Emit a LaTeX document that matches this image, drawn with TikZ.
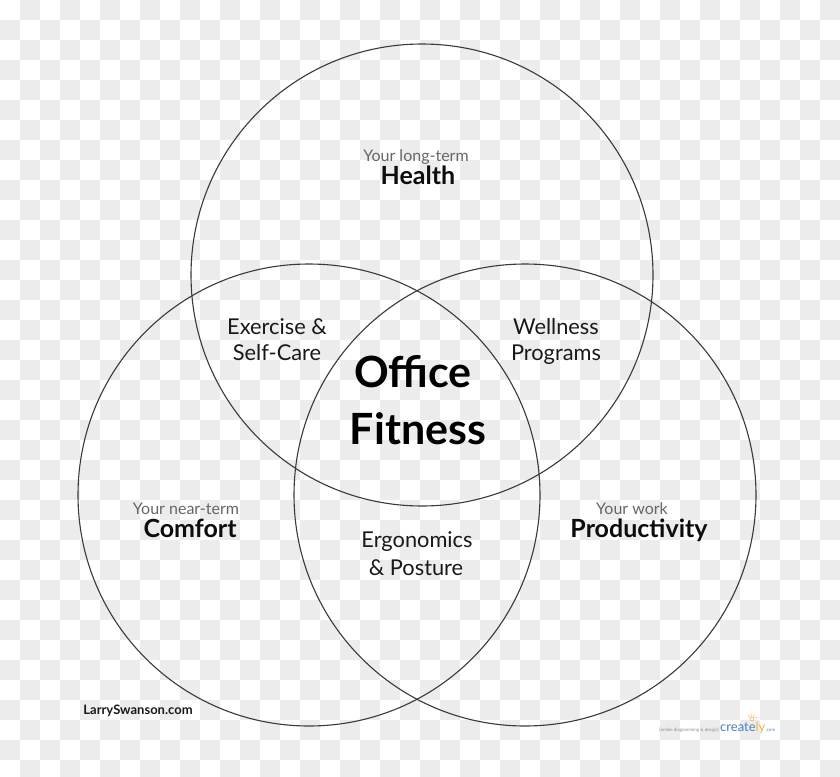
\documentclass[tikz,border=0pt]{standalone}
\usepackage{fontspec}
\setmainfont{Lato}
\definecolor{checker}{HTML}{ECECEC}
\definecolor{ringline}{HTML}{3A3A3A}
\definecolor{subtext}{HTML}{666666}
\definecolor{crblue}{HTML}{4A7FC1}
\definecolor{cryellow}{HTML}{EDB24A}

\begin{document}
\begin{tikzpicture}[x=1pt, y=-1pt,
		ring/.style={draw=ringline, line width=1.1pt},
		sub/.style={anchor=base, inner sep=0pt, text=subtext, font=\fontsize{16}{19}\selectfont},
		title/.style={anchor=base, inner sep=0pt, text=black!95, font=\bfseries\fontsize{25}{30}\selectfont},
		core/.style={anchor=base, inner sep=0pt, text=black, font=\bfseries\fontsize{43}{50}\selectfont},
		overlap/.style={anchor=base, inner sep=0pt, text=black!90, font=\fontsize{21.8}{26}\selectfont}]
			\useasboundingbox (0,0) rectangle (840,776);
			\clip (0,0) rectangle (840,776);
			
			% transparency checkerboard
			\fill[white] (0,0) rectangle (840,776);
			\foreach \i in {0,...,41}{
				\foreach \j in {0,...,38}{
					\pgfmathtruncatemacro{\odd}{mod(\i+\j,2)}
					\ifnum\odd=1 \fill[checker] (20*\i,20*\j) rectangle ++(20,20); \fi
				}
			}
			
			% the three circles
			\coordinate (chealth) at (422,275);
			\coordinate (ccomfort) at (309,495);
			\coordinate (cprod) at (525,495);
			\draw[ring] (chealth) circle (231);
			\draw[ring] (ccomfort) circle (231);
			\draw[ring] (cprod) circle (231);
			
			% circle labels
			\node[sub] (healthsub) at (416,161.5) {Your long-term};
			\node[title] (health) at (418,184.5) {Health};
			\node[sub] (comfortsub) at (186,514.5) {Your near-term};
			\node[title] (comfort) at (190,537.5) {Comfort};
			\node[sub] (prodsub) at (632,514.5) {Your work};
			\node[title] (prod) at (639,537.5) {Productivity};
			
			% overlaps
			\node[overlap] (exercise) at (277,334) {Exercise \&};
			\node[overlap] (selfcare) at (277,360) {Self-Care};
			\node[overlap] (wellness) at (556,334) {Wellness};
			\node[overlap] (programs) at (556,360) {Programs};
			\node[overlap] (ergo) at (417,547) {Ergonomics};
			\node[overlap] (posture) at (416,575) {\& Posture};
			\node[core] (office) at (413,387) {Office};
			\node[core] (fitness) at (418,444) {Fitness};
			
			% footer
			\node[anchor=base, inner sep=0pt, text=black!90, font=\bfseries\fontsize{13}{15}\selectfont] (site) at (138,714) {LarrySwanson.com};
			\node[anchor=base east, inner sep=0pt, text=black!45, font=\fontsize{4.5}{5}\selectfont] (tagline) at (719,731) {[online diagramming \& design]};
			\node[anchor=base west, inner sep=0pt, font=\fontsize{13}{15}\selectfont] (logo) at (720,731) {\textcolor{crblue}{create}\textcolor{cryellow}{ly}};
			\node[anchor=base west, inner sep=0pt, text=crblue, font=\fontsize{4.5}{5}\selectfont] (dotcom) at (logo.base east) {.com};
			\draw[cryellow, line width=.6pt] (752,719) circle (2);
			\foreach \a in {20,60,...,160}
				\draw[cryellow, line width=.5pt] (752,719) ++(-\a:3) -- ++(-\a:2);
		\end{tikzpicture}
\end{document}
